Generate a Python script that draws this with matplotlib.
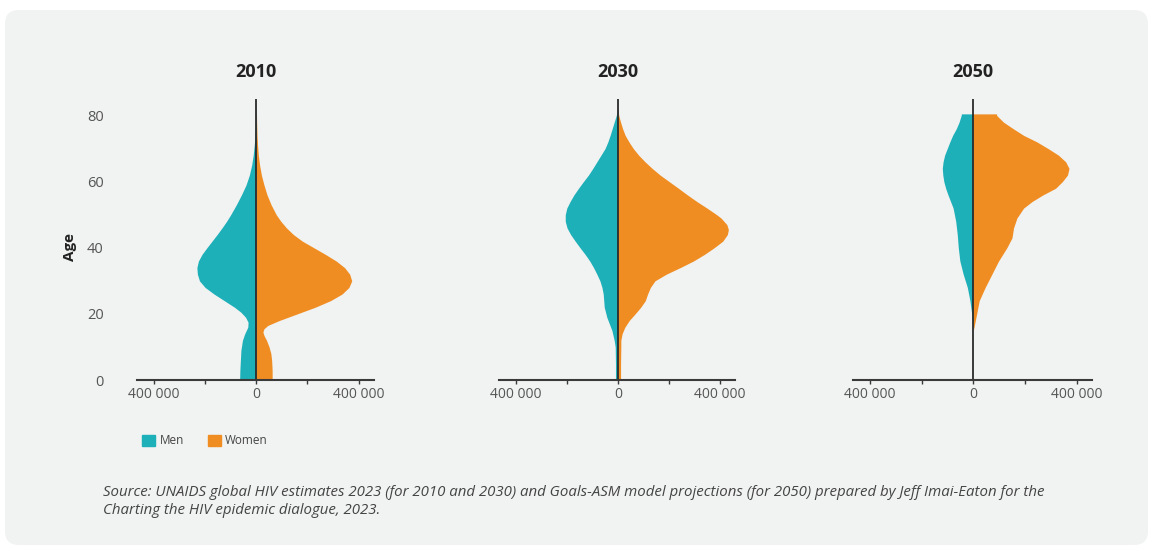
import matplotlib.patches as mpatches
from matplotlib import pyplot as plt
from matplotlib.ticker import FixedLocator

plt.rcParams['font.family'] = ['Open Sans', 'DejaVu Sans']

teal = '#1eb0b8'
orange = '#f08d22'
card = '#f1f2f2'

years = ['2010', '2030', '2050']

# 2010
men_age_2010 = [0, 3, 6, 9, 12, 14, 16, 17.5, 19, 20.5, 22, 24, 26, 28, 30, 32, 34, 36, 38, 40, 42, 44, 46, 48,
                50, 53, 56, 59, 62, 65, 68, 71, 74, 77, 80, 84]
men_2010 = [65000, 64000, 62000, 60000, 54000, 45000, 33000, 32000, 42000, 60000, 85000, 125000, 165000, 200000,
            222000, 230000, 232000, 226000, 212000, 193000, 173000, 153000, 134000, 116000, 100000, 78000, 58000,
            40000, 27000, 18000, 12000, 8000, 5000, 3000, 1500, 0]
women_age_2010 = [0, 3, 6, 8, 10, 12, 13.5, 14.5, 15.5, 16.5, 18, 20, 22, 24, 26, 28, 30, 32, 34, 36, 38, 40, 42,
                  44, 46, 48, 50, 53, 56, 59, 62, 65, 68, 71, 74, 78, 84]
women_2010 = [62000, 62000, 60000, 57000, 50000, 40000, 30000, 26000, 30000, 45000, 90000, 160000, 230000, 290000,
              335000, 362000, 373000, 365000, 345000, 312000, 270000, 225000, 180000, 145000, 118000, 96000, 78000,
              58000, 42000, 30000, 20000, 13000, 8000, 5000, 3000, 1500, 0]

# 2030
men_age_2030 = [0, 5, 10, 12, 15, 17, 19, 22, 26, 28, 30, 32, 34, 36, 38, 40, 42, 44, 46, 48, 50, 52, 54, 56, 58,
                60, 62, 64, 66, 68, 70, 72, 74, 76, 78, 80, 82]
men_2030 = [9000, 9000, 10000, 14000, 23000, 33000, 43000, 53000, 57000, 62000, 70000, 82000, 95000, 110000,
            128000, 148000, 167000, 185000, 199000, 206000, 206000, 200000, 187000, 172000, 154000, 135000, 115000,
            98000, 82000, 66000, 50000, 39000, 30000, 22000, 14000, 6000, 0]
women_age_2030 = [0, 5, 10, 12, 14, 16, 18, 20, 22, 24, 26, 28, 30, 32, 34, 36, 38, 40, 42, 44, 45.5, 47, 49, 50,
                  52, 54, 56, 58, 60, 62, 64, 66, 68, 70, 72, 74, 76, 78, 80, 82]
women_2030 = [11000, 11000, 12000, 12000, 17000, 28000, 45000, 68000, 90000, 108000, 117000, 128000, 146000,
              190000, 245000, 297000, 340000, 378000, 412000, 430000, 434000, 428000, 405000, 388000, 350000,
              310000, 273000, 238000, 202000, 166000, 135000, 107000, 82000, 61000, 44000, 29000, 19000, 11000,
              4000, 0]

# 2050
men_age_2050 = [0, 15, 17, 20, 24, 28, 32, 36, 40, 44, 48, 52, 54, 56, 58, 60, 62, 64, 66, 68, 70, 72, 74, 76,
                78, 80, 80.5]
men_2050 = [0, 0, 2000, 6000, 13000, 23000, 39000, 52000, 58000, 62000, 68000, 78000, 88000, 98000, 107000,
            114000, 118000, 120000, 117000, 111000, 101000, 91000, 80000, 66000, 55000, 47000, 46000]
women_age_2050 = [0, 15, 16, 18, 20, 24, 28, 32, 36, 40, 43, 46, 49, 52, 54, 56, 58, 60, 62, 64, 66, 68, 70, 72,
                  74, 76, 78, 80, 80.5]
women_2050 = [0, 0, 3000, 8000, 13000, 23000, 46000, 72000, 98000, 130000, 150000, 156000, 169000, 195000,
              228000, 270000, 319000, 345000, 365000, 371000, 358000, 330000, 290000, 247000, 195000, 155000,
              117000, 91000, 90000]

panels = [
    (men_age_2010, men_2010, women_age_2010, women_2010),
    (men_age_2030, men_2030, women_age_2030, women_2030),
    (men_age_2050, men_2050, women_age_2050, women_2050),
]

age_ticks = [0, 20, 40, 60, 80]
x_major = [-400000, 0, 400000]
x_labels = ['400 000', '0', '400 000']
x_minor = [-200000, 200000]

W, H = 1150, 547
fig = plt.figure(figsize=(W / 100, H / 100), dpi=100)
fig.patch.set_facecolor('white')
fig.patches.append(mpatches.FancyBboxPatch((5, 2), 1143, 535, boxstyle='round,pad=0,rounding_size=14',
                                           transform=None, facecolor=card, edgecolor='none', zorder=-10))

lefts = [137, 499, 853]
widths = [237, 236, 239]
bottom, top = 380, 99

for idx, (year, (m_age, m_val, w_age, w_val)) in enumerate(zip(years, panels)):
    ax = fig.add_axes([lefts[idx] / W, 1 - bottom / H, widths[idx] / W, (bottom - top) / H])
    ax.set_facecolor('none')
    ax.fill_betweenx(m_age, [-v for v in m_val], 0, color=teal, linewidth=0)
    ax.fill_betweenx(w_age, 0, w_val, color=orange, linewidth=0)
    ax.axvline(0, color='#2b2b2b', linewidth=1.3)

    ax.set_xlim(-466000, 460000)
    ax.set_ylim(0, 85)
    for s in ['top', 'right', 'left']:
        ax.spines[s].set_visible(False)
    ax.spines['bottom'].set_color('#3a3a3a')
    ax.spines['bottom'].set_linewidth(1.5)

    ax.set_xticks(x_major, x_labels)
    ax.xaxis.set_minor_locator(FixedLocator(x_minor))
    ax.tick_params(axis='x', which='both', length=3, width=1, color='#3a3a3a', labelsize=10,
                   labelcolor='#555555', pad=2)
    ax.set_yticks(age_ticks)
    if idx == 0:
        ax.tick_params(axis='y', length=0, labelsize=10.5, labelcolor='#555555', pad=24)
    else:
        ax.tick_params(axis='y', length=0, labelleft=False)

    ax.text(0, 1.097, year, transform=ax.get_xaxis_transform(), ha='center', va='center',
            fontsize=13, fontweight='bold', color='#222222')

fig.text(70 / W, 1 - 247 / H, 'Age', rotation=90, ha='center', va='center', fontsize=11,
         fontweight='bold', color='#222222')

handles = [mpatches.Patch(color=teal, label='Men'), mpatches.Patch(color=orange, label='Women')]
fig.legend(handles=handles, loc='center left', bbox_to_anchor=(136 / W, 1 - 441 / H), ncol=2, frameon=False,
           fontsize=8.5, handlelength=1.1, handleheight=1.1, handletextpad=0.4, columnspacing=2.0,
           borderpad=0, labelcolor='#444444')

src1 = ('Source: UNAIDS global HIV estimates 2023 (for 2010 and 2030) and Goals-ASM model projections '
        '(for 2050) prepared by Jeff Imai-Eaton for the')
src2 = 'Charting the HIV epidemic dialogue, 2023.'
fig.text(103 / W, 1 - 492 / H, src1, ha='left', va='center', fontsize=10.8, style='italic', color='#444444')
fig.text(103 / W, 1 - 511 / H, src2, ha='left', va='center', fontsize=10.8, style='italic', color='#444444')

fig.savefig('out.png', dpi=100)
plt.close()
